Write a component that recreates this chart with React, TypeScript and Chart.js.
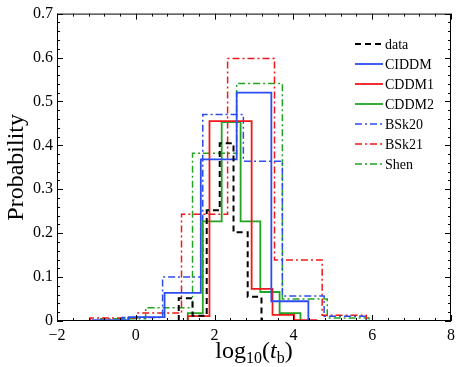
import React, { useEffect, useRef } from "react";
import { Chart, registerables } from "chart.js";

Chart.register(...registerables);

// ---- data (bin edges in log10(t_b), probabilities per bin) ----
const dataEdges = [1.09, 1.44, 1.8, 2.13, 2.48, 2.84, 3.19];
const dataValues = [0.052, 0.012, 0.252, 0.405, 0.202, 0.055];

const ciddmEdges = [-1.1, -0.18, 0.73, 1.65, 2.56, 3.44, 4.38];
const ciddmValues = [0.002, 0.009, 0.064, 0.368, 0.52, 0.045];

const cddm1Edges = [1.32, 1.87, 2.41, 2.94, 3.47, 4.02, 4.58];
const cddm1Values = [0.011, 0.455, 0.455, 0.073, 0.014, 0.002];

const cddm2Edges = [1.32, 1.7, 2.18, 2.66, 3.16, 3.65, 4.18];
const cddm2Values = [0.018, 0.227, 0.453, 0.227, 0.066, 0.018];

const bsk20Edges = [-0.35, 0.68, 1.7, 2.73, 3.72, 4.78, 5.85];
const bsk20Values = [0.008, 0.1, 0.47, 0.364, 0.057, 0.011];

const bsk21Edges = [-1.16, 0.03, 1.16, 2.33, 3.52, 4.73, 5.85];
const bsk21Values = [0.007, 0.018, 0.243, 0.598, 0.139, 0.013];

const shenEdges = [-0.89, 0.25, 1.44, 2.56, 3.72, 4.86, 5.92];
const shenValues = [0.005, 0.03, 0.382, 0.541, 0.05, 0.007];

const seriesLabels = ["data", "CIDDM", "CDDM1", "CDDM2", "BSk20", "BSk21", "Shen"];
const xTicks = [-2, 0, 2, 4, 6, 8];
const yTicks = [0, 0.1, 0.2, 0.3, 0.4, 0.5, 0.6, 0.7];

const FONT = "'Liberation Serif', 'DejaVu Serif', serif";
const BLUE = "#2d4cf0";
const RED = "#f01818";
const GREEN = "#22a322";

function stepPoints(edges: number[], values: number[]) {
  const pts: { x: number; y: number }[] = [{ x: edges[0], y: 0 }];
  values.forEach((v, i) => pts.push({ x: edges[i], y: v }));
  const last = edges[edges.length - 1];
  pts.push({ x: last, y: values[values.length - 1] });
  pts.push({ x: last, y: 0 });
  return pts;
}

const dashDot = [7, 3, 2, 3];

const framePlugin = {
  id: "frameTicks",
  afterDatasetsDraw(chart: any) {
    const { ctx, chartArea: a, scales } = chart;
    const xs = scales.x;
    const ys = scales.y;
    ctx.save();
    ctx.strokeStyle = "#000";
    ctx.lineWidth = 1;
    ctx.strokeRect(a.left + 0.5, a.top + 0.5, a.right - a.left - 1, a.bottom - a.top - 1);
    ctx.beginPath();
    for (let i = 0; i <= 25; i++) {
      const v = -2 + i * 0.4;
      const px = Math.round(xs.getPixelForValue(v)) + 0.5;
      const major = i % 5 === 0;
      const len = major ? 6 : 3;
      ctx.moveTo(px, a.bottom);
      ctx.lineTo(px, a.bottom - len);
      ctx.moveTo(px, a.top);
      ctx.lineTo(px, a.top + len);
    }
    for (let i = 0; i <= 35; i++) {
      const v = i * 0.02;
      const py = Math.round(ys.getPixelForValue(v)) + 0.5;
      const major = i % 5 === 0;
      const len = major ? 6 : 3;
      ctx.moveTo(a.left, py);
      ctx.lineTo(a.left + len, py);
      ctx.moveTo(a.right, py);
      ctx.lineTo(a.right - len, py);
    }
    ctx.stroke();

    // legend
    const lx0 = 355;
    const lx1 = 383;
    const y0 = 44;
    const dy = 20;
    chart.data.datasets.forEach((ds: any, i: number) => {
      const y = y0 + i * dy;
      ctx.beginPath();
      ctx.setLineDash(ds.borderDash || []);
      ctx.strokeStyle = ds.borderColor;
      ctx.lineWidth = ds.borderWidth;
      ctx.moveTo(lx0, y);
      ctx.lineTo(lx1, y);
      ctx.stroke();
      ctx.setLineDash([]);
      ctx.fillStyle = "#000";
      ctx.font = `14px ${FONT}`;
      ctx.textBaseline = "middle";
      ctx.textAlign = "left";
      ctx.fillText(ds.label, lx1 + 2, y + 1);
    });

    // x-axis title: log10(t_b)
    const big = `24px ${FONT}`;
    const bigIt = `italic 24px ${FONT}`;
    const small = `16px ${FONT}`;
    const parts = [
      { t: "log", f: big, dy: 0 },
      { t: "10", f: small, dy: 5 },
      { t: "(", f: big, dy: 0 },
      { t: "t", f: bigIt, dy: 0 },
      { t: "b", f: small, dy: 5 },
      { t: ")", f: big, dy: 0 },
    ];
    let total = 0;
    parts.forEach((p) => {
      ctx.font = p.f;
      total += ctx.measureText(p.t).width;
    });
    let x = (a.left + a.right) / 2 - total / 2;
    const base = 358;
    ctx.textBaseline = "alphabetic";
    parts.forEach((p) => {
      ctx.font = p.f;
      ctx.fillText(p.t, x, base + p.dy);
      x += ctx.measureText(p.t).width;
    });
    ctx.restore();
  },
};

export default function App() {
  const ref = useRef<HTMLCanvasElement | null>(null);
  useEffect(() => {
    if (!ref.current) return;
    const mk = (label: string, edges: number[], values: number[], color: string, dash: number[], width: number) => ({
      label,
      data: stepPoints(edges, values),
      borderColor: color,
      borderDash: dash,
      borderWidth: width,
      stepped: true,
      pointRadius: 0,
      fill: false,
      tension: 0,
    });
    const chart = new Chart(ref.current, {
      type: "line",
      data: {
        datasets: [
          mk(seriesLabels[0], dataEdges, dataValues, "#000000", [6, 4], 2),
          mk(seriesLabels[1], ciddmEdges, ciddmValues, BLUE, [], 1.8),
          mk(seriesLabels[2], cddm1Edges, cddm1Values, RED, [], 1.8),
          mk(seriesLabels[3], cddm2Edges, cddm2Values, GREEN, [], 1.8),
          mk(seriesLabels[4], bsk20Edges, bsk20Values, BLUE, dashDot, 1.5),
          mk(seriesLabels[5], bsk21Edges, bsk21Values, RED, dashDot, 1.5),
          mk(seriesLabels[6], shenEdges, shenValues, GREEN, dashDot, 1.5),
        ] as any,
      },
      options: {
        animation: false,
        responsive: false,
        maintainAspectRatio: false,
        layout: { padding: { top: 13, right: 8, left: 0, bottom: 0 } },
        plugins: { legend: { display: false }, tooltip: { enabled: false } },
        scales: {
          x: {
            type: "linear",
            min: -2,
            max: 8,
            afterFit: (s: any) => {
              s.height = 46;
            },
            afterBuildTicks: (s: any) => {
              s.ticks = xTicks.map((v) => ({ value: v }));
            },
            grid: { display: false, drawTicks: false },
            border: { display: false },
            ticks: {
              padding: 5,
              color: "#000",
              font: { family: FONT, size: 16 },
              maxRotation: 0,
              callback: (v: any) => (Number(v) < 0 ? "\u2212" + Math.abs(Number(v)) : String(v)),
            },
          },
          y: {
            type: "linear",
            min: 0,
            max: 0.7,
            afterFit: (s: any) => {
              s.width = 57;
            },
            afterBuildTicks: (s: any) => {
              s.ticks = yTicks.map((v) => ({ value: v }));
            },
            grid: { display: false, drawTicks: false },
            border: { display: false },
            title: {
              display: true,
              text: "Probability",
              color: "#000",
              font: { family: FONT, size: 24 },
              padding: { top: 2, bottom: 0 },
            },
            ticks: {
              padding: 4,
              color: "#000",
              font: { family: FONT, size: 16 },
              callback: (v: any) => String(Math.round(Number(v) * 10) / 10),
            },
          },
        },
      },
      plugins: [framePlugin],
    });
    return () => chart.destroy();
  }, []);
  return (
    <div style={{ position: "fixed", left: 0, top: 0, width: 460, height: 367, background: "#fff" }}>
      <canvas ref={ref} width={460} height={367} style={{ width: 460, height: 367, display: "block" }} />
    </div>
  );
}
